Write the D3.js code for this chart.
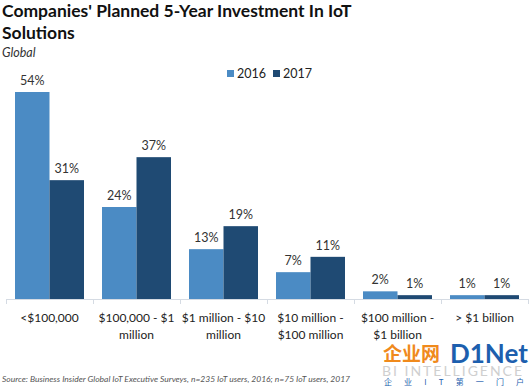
<!DOCTYPE html>
<html lang="en">
<head>
  <meta charset="UTF-8" />
  <title>Companies' Planned 5-Year Investment In IoT Solutions</title>
  <script src="https://d3js.org/d3.v7.min.js"></script>
  <style>
    body {
      background-color: white;
      margin: 0;
      font-family: Lato, "Open Sans", sans-serif;
    }

    svg {
      display: block;
    }

    .value {
      font-size: 12.5px;
      fill: #333;
      text-anchor: middle;
    }

    .cat {
      font-size: 12px;
      fill: #222;
      text-anchor: middle;
    }
  </style>
</head>
<body>
  <svg></svg>

  <script>
    const categories = ["<$100,000", "$100,000 - $1 million", "$1 million - $10 million",
      "$10 million - $100 million", "$100 million - $1 billion", "> $1 billion"];
    const catLines = [["<$100,000"], ["$100,000 - $1", "million"], ["$1 million - $10", "million"],
      ["$10 million -", "$100 million"], ["$100 million -", "$1 billion"], ["> $1 billion"]];
    const years = ["2016", "2017"];
    const values2016 = [54, 24, 13, 7, 2, 1];
    const values2017 = [31, 37, 19, 11, 1, 1];
    const colors = ["#4b8bc4", "#1f4a73"];

    const width = 530;
    const height = 387;
    const baseY = 299;

    const svg = d3.select("svg")
      .attr("width", width)
      .attr("height", height);

    // title
    svg.append("text")
      .attr("x", 2).attr("y", 17)
      .style("font-size", "17.5px").style("font-weight", "bold").attr("fill", "#111")
      .text("Companies' Planned 5-Year Investment In IoT");
    svg.append("text")
      .attr("x", 2).attr("y", 39)
      .style("font-size", "17.5px").style("font-weight", "bold").attr("fill", "#111")
      .text("Solutions");
    svg.append("text")
      .attr("x", 2).attr("y", 57)
      .style("font-size", "12.5px").style("font-style", "italic").attr("fill", "#333")
      .text("Global");

    const x = d3.scaleBand()
      .domain(categories)
      .range([6, 528])
      .paddingInner(0.207)
      .paddingOuter(0.1035);

    const xs = d3.scaleBand()
      .domain(years)
      .range([0, x.bandwidth()]);

    const y = d3.scaleLinear()
      .domain([0, 54])
      .range([baseY, 92]);

    const rows = categories.map((c, i) => ({
      cat: c,
      vals: [values2016[i], values2017[i]]
    }));

    const group = svg.append("g")
      .selectAll("g")
      .data(rows)
      .enter().append("g")
      .attr("transform", d => `translate(${x(d.cat)},0)`);

    group.selectAll("rect")
      .data(d => d.vals.map((v, j) => ({ year: years[j], v: v, j: j })))
      .enter().append("rect")
      .attr("x", d => xs(d.year))
      .attr("width", xs.bandwidth())
      .attr("y", d => y(d.v))
      .attr("height", d => baseY - y(d.v))
      .attr("fill", d => colors[d.j]);

    group.selectAll("text")
      .data(d => d.vals.map((v, j) => ({ year: years[j], v: v })))
      .enter().append("text")
      .attr("class", "value")
      .attr("x", d => xs(d.year) + xs.bandwidth() / 2)
      .attr("y", d => y(d.v) - 7)
      .text(d => d.v + "%");

    // axis line with separators
    const step = x.step();
    const axis = svg.append("g").attr("stroke", "#d5dbe3").attr("stroke-width", 1);
    axis.append("line")
      .attr("x1", 6).attr("x2", 528)
      .attr("y1", baseY + 0.5).attr("y2", baseY + 0.5);
    axis.selectAll(".tick")
      .data(d3.range(categories.length + 1))
      .enter().append("line")
      .attr("x1", i => 6 + i * step + 0.5).attr("x2", i => 6 + i * step + 0.5)
      .attr("y1", baseY).attr("y2", baseY + 5);

    // category labels
    svg.append("g")
      .selectAll("text")
      .data(catLines)
      .enter().append("text")
      .attr("class", "cat")
      .attr("transform", (d, i) => `translate(${x(categories[i]) + x.bandwidth() / 2},322)`)
      .selectAll("tspan")
      .data(d => d)
      .enter().append("tspan")
      .attr("x", 0)
      .attr("dy", (d, i) => i === 0 ? 0 : 17)
      .text(d => d);

    // legend
    const legend = svg.append("g").attr("transform", "translate(227,70)");
    years.forEach((yr, i) => {
      legend.append("rect")
        .attr("x", i * 46).attr("y", 0)
        .attr("width", 7).attr("height", 7)
        .attr("fill", colors[i]);
      legend.append("text")
        .attr("x", i * 46 + 10).attr("y", 8)
        .style("font-size", "12.5px").attr("fill", "#222")
        .text(yr);
    });

    // source
    svg.append("text")
      .attr("x", 2).attr("y", 382)
      .style("font-size", "8.5px").style("font-style", "italic").attr("fill", "#555")
      .text("Source: Business Insider Global IoT Executive Surveys, n=235 IoT users, 2016; n=75 IoT users, 2017");

    // watermark
    const wm = svg.append("g");
    wm.append("text")
      .attr("x", 383).attr("y", 361)
      .style("font-size", "19px").style("font-weight", "bold").attr("fill", "#f08a1c")
      .style("font-family", "'Noto Sans CJK SC', sans-serif")
      .text("企业网");
    wm.append("text")
      .attr("x", 450).attr("y", 363)
      .style("font-size", "26px").style("font-weight", "bold").attr("fill", "#1d5fae")
      .text("D1Net");
    wm.append("text")
      .attr("x", 382).attr("y", 376)
      .style("font-size", "14px").attr("fill", "#c4c4c4").attr("opacity", 0.8)
      .attr("textLength", 140)
      .text("BI INTELLIGENCE");
    wm.append("text")
      .attr("x", 384).attr("y", 385)
      .style("font-size", "8px").attr("fill", "#1d5fae")
      .style("font-family", "'Noto Sans CJK SC', sans-serif")
      .attr("textLength", 140)
      .text("企 业 I T 第 一 门 户");
  </script>
</body>
</html>
